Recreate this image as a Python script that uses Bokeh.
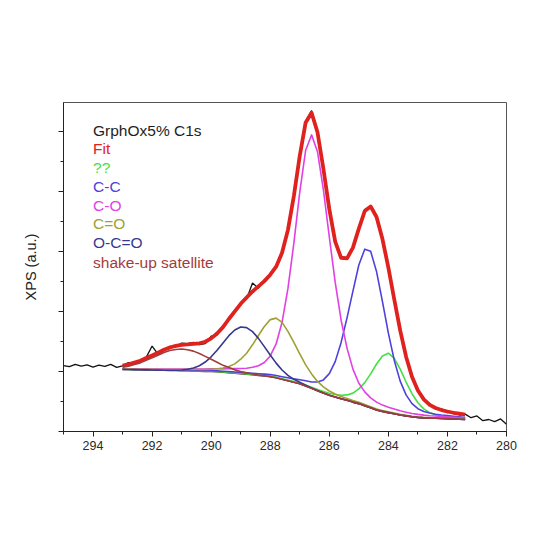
import numpy as np
from bokeh.plotting import figure
from bokeh.models import Range1d, SingleIntervalTicker, Label, CustomJSTickFormatter
from bokeh.embed import file_html
from bokeh.resources import INLINE

# ---- data (binding energy in eV, intensity in arbitrary units) ----
be_fit = [293.0, 292.8, 292.6, 292.4, 292.2, 292.0, 291.8, 291.6, 291.4, 291.2,
          291.0, 290.8, 290.6, 290.4, 290.2, 290.0, 289.8, 289.6, 289.4, 289.2,
          289.0, 288.8, 288.6, 288.4, 288.2, 288.0, 287.8, 287.6, 287.4, 287.2,
          287.0, 286.8, 286.6, 286.4, 286.2, 286.0, 285.8, 285.6, 285.4, 285.2,
          285.0, 284.8, 284.6, 284.4, 284.2, 284.0, 283.8, 283.6, 283.4, 283.2,
          283.0, 282.8, 282.6, 282.4, 282.2, 282.0, 281.8, 281.6, 281.4]

background = [2.07, 2.066, 2.062, 2.058, 2.054, 2.05, 2.046, 2.042, 2.038, 2.034,
              2.03, 2.025, 2.02, 2.013, 2.006, 2.0, 1.99, 1.975, 1.96, 1.945,
              1.93, 1.91, 1.89, 1.87, 1.85, 1.83, 1.79, 1.74, 1.69, 1.64,
              1.59, 1.52, 1.44, 1.36, 1.28, 1.21, 1.15, 1.09, 1.04, 0.98,
              0.93, 0.86, 0.79, 0.72, 0.67, 0.63, 0.59, 0.55, 0.52, 0.49,
              0.47, 0.455, 0.445, 0.44, 0.435, 0.43, 0.42, 0.41, 0.40]

# component heights above the background
unknown = [0.006, 0.006, 0.006, 0.006, 0.007, 0.007, 0.007, 0.007, 0.007, 0.008,
           0.008, 0.008, 0.008, 0.009, 0.009, 0.009, 0.009, 0.010, 0.010, 0.010,
           0.011, 0.012, 0.013, 0.014, 0.015, 0.016, 0.018, 0.021, 0.023, 0.026,
           0.029, 0.033, 0.038, 0.044, 0.051, 0.064, 0.083, 0.12, 0.18, 0.30,
           0.49, 0.77, 1.13, 1.53, 1.85, 1.98, 1.85, 1.53, 1.13, 0.77,
           0.49, 0.30, 0.18, 0.12, 0.083, 0.064, 0.051, 0.044, 0.038]

c_c = [0.012, 0.012, 0.013, 0.014, 0.014, 0.015, 0.016, 0.017, 0.018, 0.019,
       0.020, 0.021, 0.023, 0.025, 0.026, 0.028, 0.030, 0.033, 0.036, 0.039,
       0.042, 0.045, 0.05, 0.056, 0.062, 0.069, 0.077, 0.087, 0.10, 0.115,
       0.135, 0.17, 0.21, 0.29, 0.44, 0.72, 1.18, 1.88, 2.75, 3.70,
       4.62, 5.22, 5.22, 4.61, 3.66, 2.65, 1.78, 1.13, 0.70, 0.44,
       0.29, 0.21, 0.17, 0.135, 0.115, 0.10, 0.087, 0.077, 0.069]

c_o = [0.026, 0.028, 0.029, 0.031, 0.034, 0.036, 0.039, 0.042, 0.046, 0.050,
       0.054, 0.059, 0.065, 0.072, 0.08, 0.09, 0.10, 0.113, 0.13, 0.15,
       0.17, 0.20, 0.25, 0.32, 0.45, 0.69, 1.13, 1.90, 3.08, 4.64,
       6.39, 7.86, 8.45, 7.97, 6.78, 5.28, 3.82, 2.62, 1.74, 1.10,
       0.68, 0.46, 0.33, 0.26, 0.21, 0.18, 0.16, 0.14, 0.125, 0.11,
       0.10, 0.09, 0.08, 0.075, 0.07, 0.062, 0.057, 0.052, 0.048]

c_eq_o = [0.014, 0.015, 0.016, 0.018, 0.019, 0.021, 0.022, 0.025, 0.028, 0.032,
          0.036, 0.040, 0.046, 0.052, 0.062, 0.078, 0.10, 0.14, 0.21, 0.31,
          0.48, 0.70, 1.00, 1.33, 1.65, 1.90, 1.99, 1.90, 1.65, 1.33,
          1.00, 0.70, 0.48, 0.31, 0.21, 0.14, 0.10, 0.078, 0.062, 0.052,
          0.046, 0.040, 0.036, 0.032, 0.028, 0.025, 0.022, 0.021, 0.019, 0.018,
          0.016, 0.015, 0.014, 0.013, 0.012, 0.011, 0.010, 0.010, 0.009]

o_c_eq_o = [0.0, 0.0, 0.0, 0.0, 0.0, 0.0, 0.0, 0.001, 0.004, 0.01,
            0.023, 0.049, 0.098, 0.181, 0.31, 0.49, 0.72, 0.98, 1.235, 1.44,
            1.555, 1.555, 1.44, 1.235, 0.98, 0.72, 0.49, 0.31, 0.18, 0.10,
            0.05, 0.023, 0.01, 0.004, 0.001, 0.0, 0.0, 0.0, 0.0, 0.0,
            0.0, 0.0, 0.0, 0.0, 0.0, 0.0, 0.0, 0.0, 0.0, 0.0,
            0.0, 0.0, 0.0, 0.0, 0.0, 0.0, 0.0, 0.0, 0.0]

shake_up = [0.07, 0.11, 0.17, 0.23, 0.32, 0.41, 0.50, 0.59, 0.66, 0.70,
            0.72, 0.70, 0.66, 0.59, 0.50, 0.41, 0.32, 0.23, 0.17, 0.11,
            0.07, 0.045, 0.027, 0.015, 0.008, 0.004, 0.002, 0.0, 0.0, 0.0,
            0.0, 0.0, 0.0, 0.0, 0.0, 0.0, 0.0, 0.0, 0.0, 0.0,
            0.0, 0.0, 0.0, 0.0, 0.0, 0.0, 0.0, 0.0, 0.0, 0.0,
            0.0, 0.0, 0.0, 0.0, 0.0, 0.0, 0.0, 0.0, 0.0]

be_raw = [295.0, 294.8, 294.6, 294.4, 294.2, 294.0, 293.8, 293.6, 293.4, 293.2,
          293.0, 292.8, 292.6, 292.4, 292.2, 292.0, 291.8, 291.6, 291.4, 291.2,
          291.0, 290.8, 290.6, 290.4, 290.2, 290.0, 289.8, 289.6, 289.4, 289.2,
          289.0, 288.8, 288.6, 288.4, 288.2, 288.0, 287.8, 287.6, 287.4, 287.2,
          287.0, 286.8, 286.6, 286.4, 286.2, 286.0, 285.8, 285.6, 285.4, 285.2,
          285.0, 284.8, 284.6, 284.4, 284.2, 284.0, 283.8, 283.6, 283.4, 283.2,
          283.0, 282.8, 282.6, 282.4, 282.2, 282.0, 281.8, 281.6, 281.4, 281.2,
          281.0, 280.8, 280.6, 280.4, 280.2, 280.0]
raw = [2.20, 2.16, 2.24, 2.18, 2.22, 2.15, 2.21, 2.17, 2.24, 2.14,
       2.19, 2.30, 2.26, 2.33, 2.47, 2.85, 2.58, 2.70, 2.84, 2.82,
       2.95, 2.93, 2.97, 2.90, 2.93, 3.18, 3.22, 3.50, 3.80, 3.98,
       4.30, 4.42, 4.95, 4.78, 5.05, 5.20, 5.52, 5.93, 6.75, 7.83,
       9.20, 10.33, 10.70, 10.01, 8.78, 7.45, 6.33, 5.83, 5.80, 6.13,
       6.75, 7.40, 7.52, 7.14, 6.44, 5.45, 4.43, 3.36, 2.52, 1.80,
       1.40, 1.04, 0.93, 0.75, 0.76, 0.63, 0.66, 0.55, 0.58, 0.46,
       0.52, 0.36, 0.40, 0.33, 0.42, 0.24]

legend_title = "GrphOx5% C1s"
legend_labels = ["Fit", "??", "C-C", "C-O", "C=O", "O-C=O", "shake-up satellite"]

# ---- build curves ----
bg = np.array(background)
components = {
    "??": np.array(unknown),
    "C-C": np.array(c_c),
    "C-O": np.array(c_o),
    "C=O": np.array(c_eq_o),
    "O-C=O": np.array(o_c_eq_o),
    "shake-up satellite": np.array(shake_up),
}
fit = bg + sum(components.values())

colors = {
    "title": "#1e1e1e",
    "Fit": "#e0221e",
    "??": "#46e046",
    "C-C": "#5040dc",
    "C-O": "#e040e4",
    "C=O": "#a0a034",
    "O-C=O": "#38388e",
    "shake-up satellite": "#a23c3c",
}

FONT = "Liberation Sans"

p = figure(width=542, height=542, output_backend="svg", toolbar_location=None,
           x_range=Range1d(295, 280), y_range=Range1d(0, 10.97),
           min_border_left=63, min_border_right=36, min_border_top=102,
           min_border_bottom=111)
p.background_fill_color = "white"
p.border_fill_color = "white"
p.outline_line_color = "#555555"
p.outline_line_width = 1
p.xgrid.visible = False
p.ygrid.visible = False

# x axis
p.xaxis.ticker = SingleIntervalTicker(interval=2, num_minor_ticks=2)
p.xaxis.major_tick_out = 5
p.xaxis.major_tick_in = 0
p.xaxis.minor_tick_out = 3
p.xaxis.minor_tick_in = 0
p.xaxis.major_label_text_font = FONT
p.xaxis.major_label_text_font_size = "12.5px"
p.xaxis.major_label_text_color = "#2a2a2a"
p.xaxis.major_label_standoff = 4
p.xaxis.axis_line_color = "#222222"
p.xaxis.major_tick_line_color = "#222222"
p.xaxis.minor_tick_line_color = "#222222"

# y axis (no tick labels)
p.yaxis.ticker = SingleIntervalTicker(interval=2, num_minor_ticks=2)
p.yaxis.formatter = CustomJSTickFormatter(code="return '';")
p.yaxis.major_tick_out = 5
p.yaxis.major_tick_in = 0
p.yaxis.minor_tick_out = 3
p.yaxis.minor_tick_in = 0
p.yaxis.major_label_standoff = 0
p.yaxis.axis_label = "XPS (a.u.)"
p.yaxis.axis_label_text_font = FONT
p.yaxis.axis_label_text_font_size = "14.5px"
p.yaxis.axis_label_text_font_style = "normal"
p.yaxis.axis_label_text_color = "#222222"
p.yaxis.axis_label_standoff = 20
p.yaxis.axis_line_color = "#222222"
p.yaxis.major_tick_line_color = "#222222"
p.yaxis.minor_tick_line_color = "#222222"

# raw data then fit envelope
p.line(be_raw, raw, line_color="#111111", line_width=1.3)
p.line(be_fit, fit, line_color=colors["Fit"], line_width=3.8, line_join="round")

# background and components
p.line(be_fit, bg, line_color="#4a1c1c", line_width=1.6)
for name in ["??", "C-C", "C-O", "C=O", "O-C=O", "shake-up satellite"]:
    p.line(be_fit, bg + components[name], line_color=colors[name], line_width=1.6,
           line_join="round")

# legend as coloured text
legend_y = [10.04, 9.42, 8.80, 8.17, 7.53, 6.93, 6.30, 5.63]
texts = [legend_title] + legend_labels
cols = [colors["title"]] + [colors[k] for k in legend_labels]
for t, c, yy in zip(texts, cols, legend_y):
    p.add_layout(Label(x=294.0, y=yy, text=t, text_font=FONT, text_font_size="15.5px",
                       text_color=c, text_baseline="middle", text_align="left"))

open("out.html", "w").write(file_html(p, INLINE))
